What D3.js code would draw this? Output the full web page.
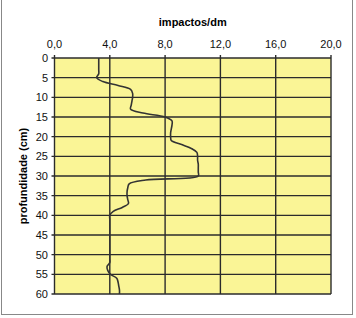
<!DOCTYPE html>
<html><head><meta charset="utf-8">
<script src="https://cdn.jsdelivr.net/npm/d3@7"></script>
<style>body{margin:0;background:#fff}svg{display:block}</style>
</head><body>
<script>
const depths = [0,1,2,3,4,5,6,7,8,9,10,11,12,13,14,15,16,17,18,19,20,21,22,23,24,25,26,27,28,29,30,31,32,33,34,35,36,37,38,39,40,41,42,43,44,45,46,47,48,49,50,51,52,53,54,55,56,57,58,59,60];
const impacts = [3.2,3.2,3.2,3.2,3.2,3.05,3.5,4.6,5.5,5.65,5.65,5.6,5.55,5.5,6.4,8.0,8.5,8.5,8.45,8.4,8.4,8.45,9.2,9.9,10.3,10.35,10.35,10.4,10.4,10.4,10.4,6.6,5.4,5.3,5.25,5.25,5.3,5.35,4.9,4.25,4.0,4.0,4.0,4.0,4.0,4.0,4.0,4.0,4.0,4.0,4.0,4.0,4.0,3.8,3.85,4.05,4.5,4.6,4.65,4.7,4.7];
const xTicks = [0,4,8,12,16,20];
const yTicks = [0,5,10,15,20,25,30,35,40,45,50,55,60];
const xTitle = "impactos/dm";
const yTitle = "profundidade (cm)";

const W = 356, H = 318;
const m = {left:54.5, right:331, top:58, bottom:294};
const svg = d3.select("body").append("svg").attr("width",W).attr("height",H);
svg.append("rect").attr("x",1.5).attr("y",-2).attr("width",351).attr("height",316.5)
  .attr("fill","#fff").attr("stroke","#888").attr("stroke-width",1);

const x = d3.scaleLinear().domain([0,20]).range([m.left,m.right]);
const y = d3.scaleLinear().domain([0,60]).range([m.top,m.bottom]);

svg.append("rect").attr("x",x(0)).attr("y",y(0)).attr("width",x(20)-x(0)).attr("height",y(60)-y(0))
  .attr("fill","#FAF596");

const grid = svg.append("g").attr("stroke","#2b2b2b").attr("stroke-width",1.4);
grid.selectAll("line.h").data(yTicks).join("line")
  .attr("x1",x(0)-3).attr("x2",x(20)).attr("y1",d=>y(d)).attr("y2",d=>y(d));
grid.selectAll("line.v").data(xTicks).join("line")
  .attr("x1",d=>x(d)).attr("x2",d=>x(d)).attr("y1",y(0)-3).attr("y2",y(60));

const fmt = d => d3.format(".1f")(d).replace(".",",");
svg.append("g").selectAll("text").data(xTicks).join("text")
  .attr("x",d=>x(d)).attr("y",48).attr("text-anchor","middle")
  .attr("font-family","Liberation Sans, Arial, sans-serif").attr("font-size",11).attr("fill","#111")
  .text(fmt);
svg.append("g").selectAll("text").data(yTicks).join("text")
  .attr("x",48).attr("y",d=>y(d)+4).attr("text-anchor","end")
  .attr("font-family","Liberation Sans, Arial, sans-serif").attr("font-size",11).attr("fill","#111")
  .text(d=>d);

svg.append("text").attr("x",(x(0)+x(20))/2).attr("y",26).attr("text-anchor","middle")
  .attr("font-family","Liberation Sans, Arial, sans-serif").attr("font-size",11).attr("font-weight","bold")
  .text(xTitle);
svg.append("text").attr("transform",`translate(27,${(y(0)+y(60))/2}) rotate(-90)`).attr("text-anchor","middle")
  .attr("font-family","Liberation Sans, Arial, sans-serif").attr("font-size",11).attr("font-weight","bold")
  .text(yTitle);

const pts = depths.map((d,i)=>[impacts[i],d]);
const line = d3.line().x(p=>x(p[0])).y(p=>y(p[1])).curve(d3.curveCatmullRom.alpha(0.5));
svg.append("path").datum(pts).attr("d",line).attr("fill","none")
  .attr("stroke","#333").attr("stroke-width",1.6);
</script>
</body></html>
